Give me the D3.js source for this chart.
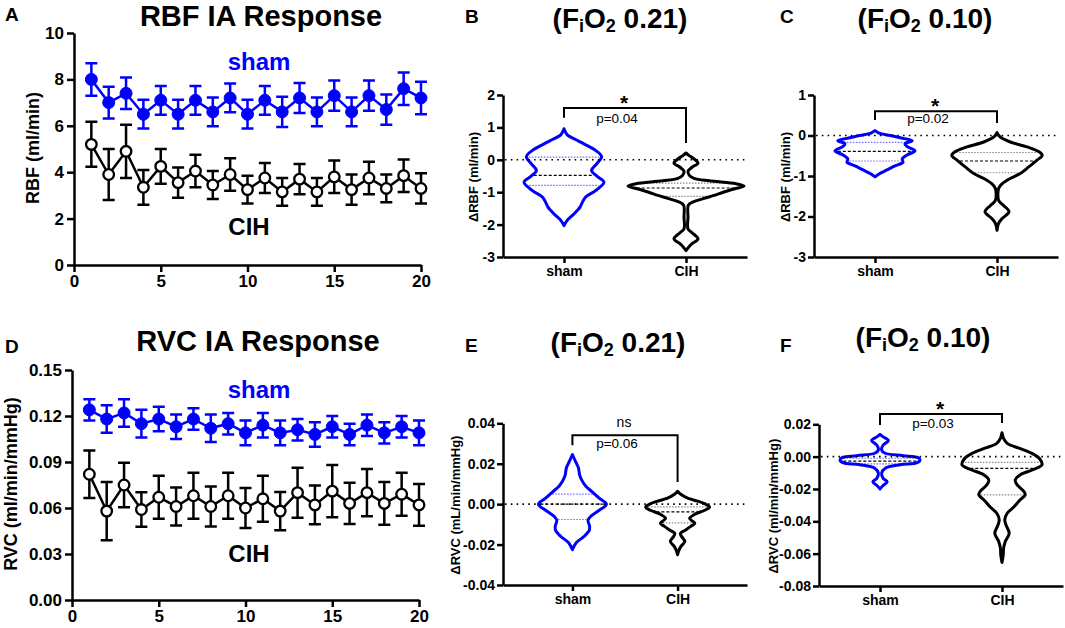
<!DOCTYPE html>
<html><head><meta charset="utf-8">
<script src="https://cdn.jsdelivr.net/npm/d3@7"></script>
<style>body{margin:0;background:#fff}svg{display:block}</style>
</head><body>
<svg id="c" width="1065" height="628"></svg>
<script>
// ---------- DATA ----------
const trials = [1,2,3,4,5,6,7,8,9,10,11,12,13,14,15,16,17,18,19,20];
const xTicks = [0,5,10,15,20];
const rbfTicks = [0,2,4,6,8,10];
const rbfTickLabels = ["0","2","4","6","8","10"];
const rvcTicks = [0,0.03,0.06,0.09,0.12,0.15];
const rvcTickLabels = ["0.00","0.03","0.06","0.09","0.12","0.15"];

const rbfSham    = [8.0,7.0,7.4,6.5,7.1,6.5,7.1,6.6,7.2,6.5,7.1,6.6,7.2,6.6,7.3,6.6,7.3,6.7,7.6,7.2];
const rbfShamErr = [0.7,0.68,0.68,0.62,0.62,0.62,0.62,0.62,0.62,0.62,0.62,0.65,0.65,0.62,0.65,0.62,0.65,0.65,0.7,0.7];
const rbfCih     = [5.2,3.9,4.9,3.35,4.25,3.55,4.05,3.45,3.9,3.25,3.75,3.15,3.7,3.15,3.8,3.25,3.75,3.3,3.85,3.3];
const rbfCihErr  = [0.97,1.1,1.15,0.75,0.75,0.65,0.7,0.6,0.7,0.6,0.65,0.6,0.65,0.6,0.7,0.65,0.7,0.6,0.7,0.65];

const rvcSham    = [0.124,0.118,0.122,0.115,0.118,0.113,0.118,0.112,0.115,0.109,0.114,0.109,0.111,0.108,0.113,0.108,0.114,0.109,0.113,0.109];
const rvcShamErr = [0.007,0.009,0.009,0.009,0.008,0.008,0.007,0.009,0.007,0.008,0.008,0.008,0.007,0.008,0.007,0.007,0.007,0.007,0.007,0.008];
const rvcCih     = [0.082,0.058,0.075,0.059,0.067,0.061,0.068,0.061,0.068,0.060,0.066,0.058,0.070,0.062,0.071,0.063,0.070,0.063,0.069,0.062];
const rvcCihErr  = [0.0155,0.019,0.0145,0.0113,0.014,0.0124,0.015,0.013,0.015,0.013,0.015,0.0125,0.0163,0.0126,0.017,0.0135,0.0154,0.014,0.014,0.0136];

const groups = ["sham","CIH"];

// violin profiles: value along y, relative density (half-width)
const bShamVal = [0.96,0.85,0.75,0.62,0.49,0.29,0.10,-0.12,-0.33,-0.51,-0.69,-0.95,-1.15,-1.31,-1.46,-1.67,-1.87,-2.03];
const bShamDen = [0,0.04,0.1,0.3,0.5,0.79,0.94,0.82,0.69,0.83,1.0,0.79,0.54,0.46,0.4,0.25,0.08,0];
const bShamQ   = [0.08,-0.48,-0.79];
const bCihVal  = [0.21,0.13,0.03,-0.10,-0.23,-0.35,-0.47,-0.57,-0.65,-0.74,-0.81,-0.90,-1.00,-1.10,-1.20,-1.30,-1.40,-1.77,-2.13,-2.25,-2.44,-2.59,-2.72,-2.80];
const bCihDen  = [0,0.08,0.2,0.3,0.15,0.05,0.08,0.2,0.58,1.25,1.45,1.2,0.93,0.7,0.43,0.18,0.06,0.05,0.05,0.15,0.3,0.15,0.05,0];
const bCihQ    = [-0.72,-0.87,-1.13];

const cShamVal = [0.12,0.06,0.0,-0.07,-0.13,-0.2,-0.27,-0.38,-0.48,-0.58,-0.66,-0.75,-0.85,-0.95,-1.02];
const cShamDen = [0,0.1,0.38,0.7,0.93,0.75,0.8,1.0,0.8,0.68,0.7,0.5,0.3,0.1,0];
const cShamQ   = [-0.17,-0.39,-0.63];
const cCihVal  = [0.07,-0.03,-0.16,-0.28,-0.4,-0.49,-0.61,-0.77,-0.94,-1.06,-1.19,-1.31,-1.6,-1.7,-1.88,-2.05,-2.17,-2.34];
const cCihDen  = [0,0.07,0.33,0.75,1.05,1.13,1.0,0.8,0.58,0.33,0.13,0.04,0.04,0.13,0.3,0.13,0.04,0];
const cCihQ    = [-0.42,-0.63,-0.92];

const eShamVal = [0.0245,0.021,0.018,0.0145,0.012,0.009,0.006,0.003,0.0,-0.003,-0.006,-0.008,-0.011,-0.013,-0.016,-0.019,-0.0225];
const eShamDen = [0,0.08,0.15,0.18,0.23,0.33,0.5,0.67,0.85,0.67,0.46,0.39,0.43,0.42,0.29,0.1,0];
const eShamQ   = [0.005,0.0,-0.0076];
const eCihVal  = [0.0064,0.005,0.003,0.0015,0.0,-0.0015,-0.003,-0.005,-0.007,-0.0085,-0.0095,-0.011,-0.013,-0.0145,-0.016,-0.0185,-0.021,-0.023,-0.025];
const eCihDen  = [0,0.07,0.25,0.5,0.7,0.8,0.68,0.43,0.3,0.38,0.43,0.33,0.18,0.07,0.1,0.18,0.08,0.03,0];
const eCihQ    = [-0.0013,-0.0038,-0.0093];

const fShamVal = [0.0138,0.0124,0.0099,0.0072,0.0041,0.0021,0.0006,-0.0006,-0.002,-0.0037,-0.005,-0.0072,-0.0103,-0.0134,-0.0155,-0.018,-0.02];
const fShamDen = [0,0.07,0.21,0.08,0.04,0.13,0.58,0.95,1.0,0.93,0.5,0.13,0.04,0.08,0.18,0.07,0];
const fShamQ   = [-0.001,-0.0028,-0.0045];
const fCihVal  = [0.0148,0.0113,0.0082,0.0052,0.002,-0.0016,-0.005,-0.0078,-0.0113,-0.0144,-0.0175,-0.0216,-0.0237,-0.0268,-0.031,-0.035,-0.039,-0.0423,-0.0474,-0.0526,-0.0567,-0.061,-0.0654];
const fCihDen  = [0,0.04,0.13,0.43,0.75,0.95,1.0,0.8,0.45,0.33,0.38,0.55,0.58,0.45,0.3,0.13,0.07,0.1,0.18,0.08,0.04,0.03,0];
const fCihQ    = [-0.0035,-0.0072,-0.0237];

const bTicks = [-3,-2,-1,0,1,2], bTickLabels = ["-3","-2","-1","0","1","2"];
const cTicks = [-3,-2,-1,0,1],   cTickLabels = ["-3","-2","-1","0","1"];
const eTicks = [-0.04,-0.02,0,0.02,0.04], eTickLabels = ["-0.04","-0.02","0.00","0.02","0.04"];
const fTicks = [-0.08,-0.06,-0.04,-0.02,0,0.02], fTickLabels = ["-0.08","-0.06","-0.04","-0.02","0.00","0.02"];

// ---------- DRAW ----------
const FONT = '"Liberation Sans", Arial, Helvetica, sans-serif';
const BLUE = "#0000ff";
const svg = d3.select("#c");

function styleAxis(g, fs) {
  g.attr("font-family", FONT);
  g.select(".domain").attr("stroke", "#000").attr("stroke-width", 2.5);
  g.selectAll(".tick line").attr("stroke", "#000").attr("stroke-width", 2.5);
  g.selectAll(".tick text").attr("font-size", fs).attr("font-weight", "bold").attr("fill", "#000");
}
function txt(x, y, s, o) {
  o = o || {};
  return svg.append("text").attr("x", x).attr("y", y).text(s)
    .attr("font-family", FONT).attr("font-size", o.size || 16)
    .attr("font-weight", o.weight || "bold").attr("fill", o.color || "#000")
    .attr("text-anchor", o.anchor || "middle");
}
function vlabel(cx, cy, s, size) {
  svg.append("text").attr("transform", `translate(${cx},${cy}) rotate(-90)`)
    .attr("dy", "0.35em").attr("text-anchor", "middle")
    .attr("font-family", FONT).attr("font-size", size).attr("font-weight", "bold")
    .text(s);
}

function linePanel(p) {
  const x = d3.scaleLinear().domain([0, 20]).range([p.left, p.right]);
  const y = d3.scaleLinear().domain([0, p.max]).range([p.bottom, p.top]);
  svg.append("g").attr("transform", `translate(0,${p.bottom})`)
    .call(d3.axisBottom(x).tickValues(xTicks).tickSize(7).tickSizeOuter(0).tickPadding(3))
    .call(s => styleAxis(s, 17));
  svg.append("g").attr("transform", `translate(${p.left},0)`)
    .call(d3.axisLeft(y).tickValues(p.ticks).tickFormat((d, i) => p.tickLabels[i]).tickSize(7).tickSizeOuter(0).tickPadding(3))
    .call(s => styleAxis(s, 17));
  p.series.forEach(s => {
    const g = svg.append("g");
    const data = trials.map((t, i) => ({t, v: s.vals[i], e: s.errs[i]}));
    g.selectAll(".eb").data(data).enter().append("path")
      .attr("d", d => `M${x(d.t)},${y(d.v - d.e)}V${y(d.v + d.e)}M${x(d.t) - 6},${y(d.v + d.e)}h12M${x(d.t) - 6},${y(d.v - d.e)}h12`)
      .attr("stroke", s.color).attr("stroke-width", 2.5).attr("fill", "none");
    g.append("path").datum(data)
      .attr("d", d3.line().x(d => x(d.t)).y(d => y(d.v)))
      .attr("stroke", s.color).attr("stroke-width", 2.5).attr("fill", "none");
    g.selectAll("circle").data(data).enter().append("circle")
      .attr("cx", d => x(d.t)).attr("cy", d => y(d.v))
      .attr("r", s.filled ? 6 : 5.3)
      .attr("fill", s.filled ? s.color : "#fff")
      .attr("stroke", s.color).attr("stroke-width", s.filled ? 1 : 2.3);
  });
}

linePanel({left: 74, right: 421, top: 33, bottom: 265, max: 10, ticks: rbfTicks, tickLabels: rbfTickLabels,
  series: [{vals: rbfCih, errs: rbfCihErr, color: "#000", filled: false},
           {vals: rbfSham, errs: rbfShamErr, color: BLUE, filled: true}]});
linePanel({left: 72, right: 419, top: 370, bottom: 600, max: 0.15, ticks: rvcTicks, tickLabels: rvcTickLabels,
  series: [{vals: rvcCih, errs: rvcCihErr, color: "#000", filled: false},
           {vals: rvcSham, errs: rvcShamErr, color: BLUE, filled: true}]});

txt(261, 26, "RBF IA Response", {size: 29});
txt(258, 351, "RVC IA Response", {size: 29});
txt(5, 21, "A", {size: 19, anchor: "start"});
txt(5, 353, "D", {size: 19, anchor: "start"});
txt(259, 70, "sham", {size: 24, color: BLUE});
txt(249, 235, "CIH", {size: 24});
txt(259, 398, "sham", {size: 24, color: BLUE});
txt(249, 562, "CIH", {size: 24});
vlabel(33, 148, "RBF (ml/min)", 18);
vlabel(11, 484, "RVC (ml/min/mmHg)", 18);

function fioTitle(cx, y, val) {
  const t = svg.append("text").attr("x", cx).attr("y", y).attr("text-anchor", "middle")
    .attr("font-family", FONT).attr("font-weight", "bold").attr("font-size", 28);
  t.append("tspan").text("(F");
  t.append("tspan").attr("font-size", 18).attr("dy", 4).text("i");
  t.append("tspan").attr("dy", -4).text("O");
  t.append("tspan").attr("font-size", 18).attr("dy", 4).text("2");
  t.append("tspan").attr("dy", -4).text(" " + val + ")");
}

function violinPanel(p) {
  const y = d3.scaleLinear().domain(p.domain).range([p.bottom, p.top]);
  const x = d3.scalePoint().domain(groups).range([p.left, p.right]).padding(p.pad);
  const w = d3.scaleLinear().domain([0, 1]).range([0, 40]);
  svg.append("g").attr("transform", `translate(0,${p.bottom})`)
    .call(d3.axisBottom(x).tickSize(6).tickSizeOuter(0).tickPadding(3))
    .call(s => styleAxis(s, 14));
  svg.append("g").attr("transform", `translate(${p.left},0)`)
    .call(d3.axisLeft(y).tickValues(p.ticks).tickFormat((d, i) => p.tickLabels[i]).tickSize(6).tickSizeOuter(0).tickPadding(2))
    .call(s => styleAxis(s, 14));
  p.violins.forEach((v, k) => {
    const cx = x(groups[k]);
    const pts = v.val.map((val, i) => ({v: val, d: v.den[i]}));
    const dens = d3.scaleLinear().domain(v.val).range(v.den);
    const g = svg.append("g");
    const area = d3.area().curve(d3.curveCatmullRom.alpha(0.5))
      .y(d => y(d.v)).x0(d => cx - w(d.d)).x1(d => cx + w(d.d));
    g.append("path").datum(pts).attr("d", area).attr("fill", "#fff");
    v.q.forEach((q, j) => {
      const hw = Math.max(0, w(dens(q)) - 2);
      g.append("line").attr("x1", cx - hw).attr("x2", cx + hw).attr("y1", y(q)).attr("y2", y(q))
        .attr("stroke", j === 1 ? "#000" : v.qColor).attr("stroke-width", 1.2)
        .attr("stroke-dasharray", j === 1 ? "3,2" : "1.5,1.5");
    });
    g.append("path").datum(pts).attr("d", area).attr("fill", "none")
      .attr("stroke", v.color).attr("stroke-width", 3).attr("stroke-linejoin", "round");
  });
  // zero line
  svg.append("line").attr("x1", p.left + 2).attr("x2", p.right).attr("y1", y(0)).attr("y2", y(0))
    .attr("stroke", "#000").attr("stroke-width", 1.6).attr("stroke-dasharray", "1.6,4.2");
  // bracket
  const x1 = x(groups[0]), x2 = x(groups[1]), yt = y(p.br[0]);
  svg.append("path").attr("d", `M${x1},${y(p.br[1])}V${yt}H${x2}V${y(p.br[2])}`)
    .attr("fill", "none").attr("stroke", "#000").attr("stroke-width", 2);
  const mid = (x1 + x2) / 2;
  if (p.sig === "*") txt(mid - 1, yt + 2, "*", {size: 21});
  else txt(mid - 1, yt - 8, p.sig, {size: 14, weight: "normal"});
  txt(mid - 8, yt + p.pdy, p.p, {size: 13.5, weight: "normal"});
  vlabel(p.labX, (p.top + p.bottom) / 2 + 1, p.ylabel, 13);
}

violinPanel({left: 503, right: 747, top: 95, bottom: 257, domain: [-3, 2], pad: 0.5,
  ticks: bTicks, tickLabels: bTickLabels, ylabel: "\u0394RBF  (ml/min)", labX: 473,
  br: [1.6, 1.3, 0.52], sig: "*", p: "p=0.04", pdy: 15,
  violins: [{val: bShamVal, den: bShamDen, q: bShamQ, color: BLUE, qColor: "#6a6aff"},
            {val: bCihVal, den: bCihDen, q: bCihQ, color: "#000", qColor: "#888"}]});
violinPanel({left: 814, right: 1058, top: 95, bottom: 257, domain: [-3, 1], pad: 0.5,
  ticks: cTicks, tickLabels: cTickLabels, ylabel: "\u0394RBF  (ml/min)", labX: 785,
  br: [0.6, 0.38, 0.31], sig: "*", p: "p=0.02", pdy: 12,
  violins: [{val: cShamVal, den: cShamDen, q: cShamQ, color: BLUE, qColor: "#6a6aff"},
            {val: cCihVal, den: cCihDen, q: cCihQ, color: "#000", qColor: "#888"}]});
violinPanel({left: 503, right: 747, top: 423.3, bottom: 585, domain: [-0.04, 0.04], pad: 0.66,
  ticks: eTicks, tickLabels: eTickLabels, ylabel: "\u0394RVC (mL/min/mmHg)", labX: 455,
  br: [0.0341, 0.0292, 0.0109], sig: "ns", p: "p=0.06", pdy: 13,
  violins: [{val: eShamVal, den: eShamDen, q: eShamQ, color: BLUE, qColor: "#6a6aff"},
            {val: eCihVal, den: eCihDen, q: eCihQ, color: "#000", qColor: "#888"}]});
violinPanel({left: 819, right: 1063, top: 424.3, bottom: 586, domain: [-0.08, 0.02], pad: 0.5,
  ticks: fTicks, tickLabels: fTickLabels, ylabel: "\u0394RVC (ml/min/mmHg)", labX: 773,
  br: [0.0264, 0.0196, 0.0208], sig: "*", p: "p=0.03", pdy: 14,
  violins: [{val: fShamVal, den: fShamDen, q: fShamQ, color: BLUE, qColor: "#6a6aff"},
            {val: fCihVal, den: fCihDen, q: fCihQ, color: "#000", qColor: "#888"}]});

fioTitle(620, 28, "0.21");
fioTitle(925, 28, "0.10");
fioTitle(618, 352, "0.21");
fioTitle(923, 347, "0.10");
txt(465, 23, "B", {size: 19, anchor: "start"});
txt(780, 23, "C", {size: 19, anchor: "start"});
txt(465, 352, "E", {size: 19, anchor: "start"});
txt(780, 352, "F", {size: 19, anchor: "start"});
</script>
</body></html>
